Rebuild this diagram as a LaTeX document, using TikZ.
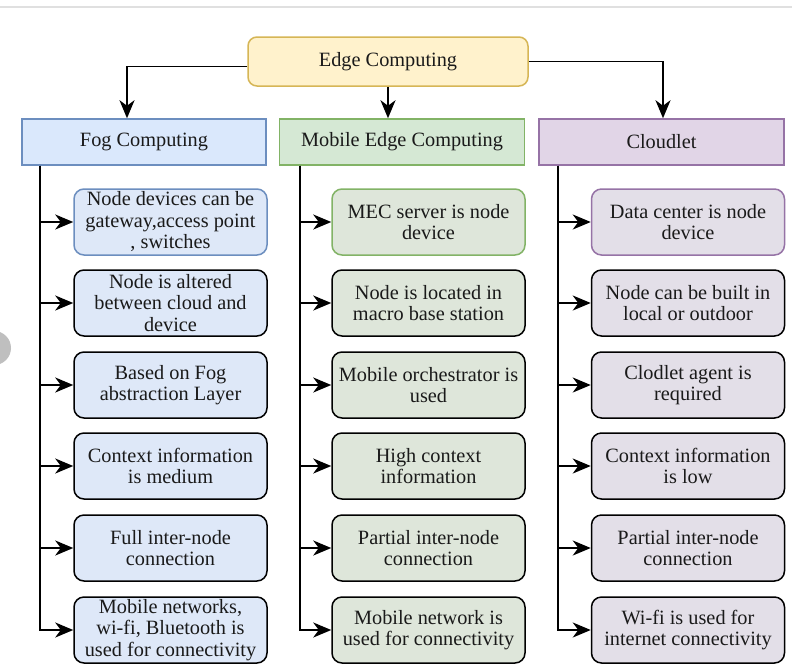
\documentclass[tikz,border=0pt]{standalone}
\usepackage{fontspec}
\setmainfont{Liberation Serif}
\usetikzlibrary{arrows.meta,calc}
\definecolor{edgefill}{HTML}{FFF2CC}
\definecolor{edgedraw}{HTML}{D6B656}
\definecolor{fogfill}{HTML}{DAE8FC}
\definecolor{fogdraw}{HTML}{6C8EBF}
\definecolor{mecfill}{HTML}{D5E8D4}
\definecolor{mecdraw}{HTML}{82B366}
\definecolor{clfill}{HTML}{E1D5E7}
\definecolor{cldraw}{HTML}{9673A6}
\definecolor{fogsub}{HTML}{DEE8F8}
\definecolor{mecsub}{HTML}{DEE6DA}
\definecolor{clsub}{HTML}{E3DFE8}
\definecolor{txt}{HTML}{1A1A1A}
\begin{document}
\begin{tikzpicture}[x=1pt,y=-1pt,
  every node/.style={font=\fontsize{20.3}{21.5}\selectfont, text=txt, align=center, inner sep=0pt},
  topbox/.style={draw=edgedraw, fill=edgefill, line width=1.5pt, rounded corners=9pt, minimum width=280pt, minimum height=49pt},
  head/.style={line width=1.5pt, minimum width=244pt, minimum height=46pt},
  sub/.style={line width=1.5pt, rounded corners=10pt, minimum width=193pt, minimum height=66pt},
  arr/.style={line width=1.9pt, -{Stealth[length=18pt,width=15pt,inset=5.5pt]}}
]
\useasboundingbox (0,0) rectangle (792,670);
\fill[white] (0,0) rectangle (792,670);
\draw[black!12, line width=1.2pt] (0,7) -- (792,7);
\fill[black!25] (-6,348) circle (17);

\node[topbox] (edge) at (388,61.5) {Edge Computing};

\node[head, draw=fogdraw, fill=fogfill] (fog) at (144,142) {Fog Computing};
\node[head, draw=mecdraw, fill=mecfill, minimum width=245pt] (mec) at (402,142) {Mobile Edge Computing};
\node[head, draw=cldraw, fill=clfill, minimum width=245pt] (cl) at (661.5,142) {Cloudlet};

\draw[arr] ([yshift=-5pt]edge.west) -| ([xshift=-17pt]fog.north);
\draw[arr] ([xshift=0pt]edge.south) -- (edge.south |- mec.north);
\draw[arr] (edge.east) -| ([xshift=1.5pt]cl.north);

% Fog column
\node[sub, draw=fogdraw, fill=fogsub] (f1) at (170.5,222) {Node devices can be\\gateway,access point\\, switches};
\node[sub, draw=black, fill=fogsub] (f2) at (170.5,303) {Node is altered\\between cloud and\\device};
\node[sub, draw=black, fill=fogsub] (f3) at (170.5,385) {Based on Fog\\abstraction Layer};
\node[sub, draw=black, fill=fogsub] (f4) at (170.5,466) {Context information\\is medium};
\node[sub, draw=black, fill=fogsub] (f5) at (170.5,548) {Full inter-node\\connection};
\node[sub, draw=black, fill=fogsub] (f6) at (170.5,630) {Mobile networks,\\wi-fi, Bluetooth is\\used for connectivity};

% MEC column
\node[sub, draw=mecdraw, fill=mecsub] (m1) at (428.5,222) {MEC server is node\\device};
\node[sub, draw=black, fill=mecsub] (m2) at (428.5,303) {Node is located in\\macro base station};
\node[sub, draw=black, fill=mecsub] (m3) at (428.5,385) {Mobile orchestrator is\\used};
\node[sub, draw=black, fill=mecsub] (m4) at (428.5,466) {High context\\information};
\node[sub, draw=black, fill=mecsub] (m5) at (428.5,548) {Partial inter-node\\connection};
\node[sub, draw=black, fill=mecsub] (m6) at (428.5,630) {Mobile network is\\used for connectivity};

% Cloudlet column
\node[sub, draw=cldraw, fill=clsub] (c1) at (688,222) {Data center is node\\device};
\node[sub, draw=black, fill=clsub] (c2) at (688,303) {Node can be built in\\local or outdoor};
\node[sub, draw=black, fill=clsub] (c3) at (688,385) {Clodlet agent is\\required};
\node[sub, draw=black, fill=clsub] (c4) at (688,466) {Context information\\is low};
\node[sub, draw=black, fill=clsub] (c5) at (688,548) {Partial inter-node\\connection};
\node[sub, draw=black, fill=clsub] (c6) at (688,630) {Wi-fi is used for\\internet connectivity};

\foreach \i in {1,...,6}{
  \draw[arr] ([xshift=19pt]fog.south west) |- (f\i.west);
  \draw[arr] ([xshift=21pt]mec.south west) |- (m\i.west);
  \draw[arr] ([xshift=20pt]cl.south west) |- (c\i.west);
}
\end{tikzpicture}
\end{document}
